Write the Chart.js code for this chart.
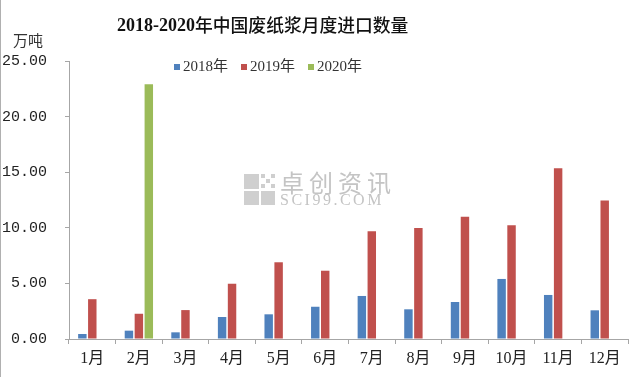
<!DOCTYPE html>
<html>
<head>
<meta charset="utf-8">
<script src="https://cdn.jsdelivr.net/npm/chart.js@4"></script>
<style>
  html, body { margin: 0; padding: 0; background: #fff; }
  #wrap { width: 635px; height: 377px; position: relative; }
</style>
</head>
<body>
<div id="wrap"><canvas id="importChart" width="635" height="377"></canvas></div>
<script>
const months = ['1月', '2月', '3月', '4月', '5月', '6月', '7月', '8月', '9月', '10月', '11月', '12月'];
const seriesNames = ['2018年', '2019年', '2020年'];
const values2018 = [0.45, 0.75, 0.6, 1.98, 2.22, 2.9, 3.87, 2.67, 3.33, 5.4, 3.96, 2.58];
const values2019 = [3.58, 2.27, 2.6, 4.97, 6.9, 6.14, 9.7, 9.98, 11.0, 10.22, 15.35, 12.45];
const values2020 = [null, 22.9, null, null, null, null, null, null, null, null, null, null];
const yTicks = [0, 5, 10, 15, 20, 25];
const colors = ['#4F81BD', '#C0504D', '#9BBB59'];

const axisGray = '#a6a6a6';
const serif = '"Liberation Serif", "Noto Sans CJK SC", serif';
const titleYears = '2018-2020';
const titleRest = '年中国废纸浆月度进口数量';

// title, unit, legend and watermark drawn by hand, like the source picture
const decorations = {
    id: 'decorations',
    beforeDatasetsDraw(chart) {
        const ctx = chart.ctx;
        ctx.save();
        // watermark
        ctx.fillStyle = '#cfcfcf';
        ctx.fillRect(244, 174, 15, 15);
        ctx.fillRect(244, 191, 15, 14);
        ctx.fillRect(261, 191, 14, 14);
        for (let i = 0; i < 3; i++) {
            for (let j = 0; j < 3; j++) {
                if ((i + j) % 2 === 0) ctx.fillRect(261 + i * 5, 174 + j * 5, 4, 4);
            }
        }
        ctx.fillStyle = '#c4c4c4';
        ctx.font = '24px "Noto Sans CJK SC"';
        ctx.textBaseline = 'middle';
        ctx.textAlign = 'left';
        ctx.letterSpacing = '5px';
        ctx.fillText('卓创资讯', 280, 183);
        ctx.font = '16px "Liberation Serif"';
        ctx.letterSpacing = '2.5px';
        ctx.fillText('SCI99.COM', 280, 201);
        ctx.restore();
    },
    afterDraw(chart) {
        const ctx = chart.ctx;
        ctx.save();
        // left frame line
        ctx.fillStyle = '#b0b0b0';
        ctx.fillRect(0, 0, 1, 377);

        // title: years part then chinese part
        ctx.fillStyle = '#111';
        ctx.textBaseline = 'middle';
        ctx.textAlign = 'left';
        ctx.font = 'bold 20px "Liberation Serif"';
        const yw = ctx.measureText(titleYears).width;
        ctx.font = 'bold ' + (20 * 78 / yw).toFixed(1) + 'px "Liberation Serif"';
        ctx.fillText(titleYears, 117, 26);
        ctx.font = '500 18px "Noto Sans CJK SC"';
        const rw = ctx.measureText(titleRest).width;
        ctx.font = '500 ' + (18 * 213 / rw).toFixed(1) + 'px "Noto Sans CJK SC"';
        ctx.fillText(titleRest, 195, 25);

        ctx.fillStyle = '#333';
        ctx.font = '15px "Noto Sans CJK SC"';
        ctx.fillText('万吨', 13, 40);

        // legend
        ctx.font = '15px ' + serif;
        let x = 174;
        chart.data.datasets.forEach((ds, i) => {
            ctx.fillStyle = ds.backgroundColor;
            ctx.fillRect(x, 64, 6, 6);
            ctx.fillStyle = '#333';
            ctx.fillText(ds.label, x + 9, 67);
            x += 67;
        });
        ctx.restore();
    }
};

new Chart(document.getElementById('importChart'), {
    type: 'bar',
    data: {
        labels: months,
        datasets: [
            { label: seriesNames[0], data: values2018, backgroundColor: colors[0] },
            { label: seriesNames[1], data: values2019, backgroundColor: colors[1] },
            { label: seriesNames[2], data: values2020, backgroundColor: colors[2] }
        ]
    },
    options: {
        responsive: false,
        animation: false,
        categoryPercentage: 0.64,
        barPercentage: 0.85,
        layout: { padding: { top: 61, right: 7, left: 0, bottom: 0 } },
        plugins: {
            legend: { display: false },
            title: { display: false },
            tooltip: { enabled: false }
        },
        scales: {
            x: {
                grid: { offset: true, drawOnChartArea: false, drawTicks: true, tickLength: 5, color: axisGray },
                border: { color: axisGray },
                ticks: { color: '#222', padding: 5, font: { family: serif, size: 16 } },
                afterFit(scale) { scale.height = 38; }
            },
            y: {
                min: 0,
                max: 25,
                afterBuildTicks(scale) { scale.ticks = yTicks.map(v => ({ value: v })); },
                grid: { drawOnChartArea: false, drawTicks: true, tickLength: 4, color: axisGray },
                border: { color: axisGray },
                ticks: {
                    color: '#222',
                    padding: 18,
                    font: { family: '"Liberation Mono", monospace', size: 15 },
                    callback: v => v.toFixed(2)
                },
                afterFit(scale) { scale.width = 69; }
            }
        }
    },
    plugins: [decorations]
});
</script>
</body>
</html>
